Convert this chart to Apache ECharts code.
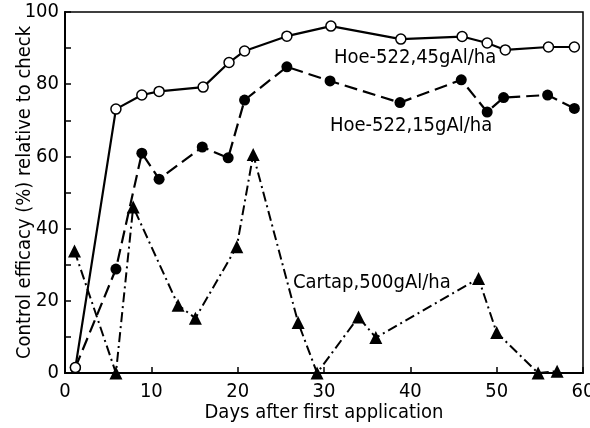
<!DOCTYPE html>
<html>
<head>
<meta charset="utf-8">
<script src="https://cdn.jsdelivr.net/npm/echarts@6/dist/echarts.min.js"></script>
<style>html,body{margin:0;padding:0;background:#fff}#c{width:590px;height:428px}</style>
</head>
<body>
<div id="c"></div>
<script>
// Data (days after first application, control efficacy %)
const hoe45Days = [1.2, 5.9, 8.9, 10.9, 16.0, 19.0, 20.8, 25.7, 30.8, 38.9, 46.0, 48.9, 51.0, 56.0, 59.0];
const hoe45Vals = [1.5, 73.1, 77.0, 78.0, 79.2, 86.0, 89.2, 93.3, 96.1, 92.5, 93.2, 91.4, 89.5, 90.3, 90.3];

const hoe15Days = [1.2, 5.9, 8.9, 10.9, 15.9, 18.9, 20.8, 25.7, 30.7, 38.8, 45.9, 48.9, 50.8, 55.9, 59.0];
const hoe15Vals = [1.5, 28.8, 60.9, 53.7, 62.6, 59.6, 75.6, 84.8, 80.9, 74.9, 81.2, 72.3, 76.3, 77.0, 73.3];

const cartapDays = [1.1, 5.9, 7.9, 13.1, 15.1, 19.9, 21.8, 27.0, 29.2, 34.0, 36.0, 47.9, 50.0, 54.8, 57.0];
const cartapVals = [33.8, 0, 46.0, 18.8, 15.2, 35.0, 60.5, 14.0, 0, 15.5, 9.8, 26.2, 11.2, 0, 0.5];

const xTicks = [0, 10, 20, 30, 40, 50, 60];
const yTicks = [0, 20, 40, 60, 80, 100];

const labels = [
  {text: 'Hoe-522,45gAl/ha', left: 334, top: 48},
  {text: 'Hoe-522,15gAl/ha', left: 330, top: 116},
  {text: 'Cartap,500gAl/ha', left: 293, top: 273}
];

const zip = (a, b) => a.map((v, i) => [v, b[i]]);
const FONT = '"DejaVu Sans Condensed", "Liberation Sans Narrow", "Liberation Sans", sans-serif';

const chart = echarts.init(document.getElementById('c'), null, {renderer: 'canvas'});
chart.setOption({
  animation: false,
  backgroundColor: '#fff',
  grid: {left: 65, right: 7, top: 12, bottom: 55, show: true, borderColor: '#000', borderWidth: 1.5,
         containLabel: false, outerBoundsMode: 'none'},
  xAxis: {
    type: 'value', min: 0, max: 60, interval: 10,
    name: 'Days after first application', nameLocation: 'middle', nameGap: 30, nameMoveOverlap: false,
    nameTextStyle: {fontFamily: FONT, fontSize: 20, color: '#000'},
    axisLine: {show: true, lineStyle: {color: '#000', width: 2}},
    axisTick: {show: true, inside: true, length: 6, lineStyle: {color: '#000', width: 1.5}},
    axisLabel: {color: '#000', fontFamily: FONT, fontSize: 20, margin: 9,
      formatter: v => xTicks.includes(v) ? String(v) : ''},
    splitLine: {show: false}
  },
  yAxis: {
    type: 'value', min: 0, max: 100, interval: 20,
    name: 'Control efficacy (%) relative to check', nameLocation: 'middle', nameGap: 30, nameMoveOverlap: false,
    nameTextStyle: {fontFamily: FONT, fontSize: 20, color: '#000'},
    axisLine: {show: true, lineStyle: {color: '#000', width: 2}},
    axisTick: {show: true, inside: true, length: 6, lineStyle: {color: '#000', width: 1.5}},
    minorTick: {show: true, splitNumber: 2, length: 6, lineStyle: {color: '#000', width: 1.5}},
    axisLabel: {color: '#000', fontFamily: FONT, fontSize: 20, margin: 6,
      formatter: v => yTicks.includes(v) ? String(v) : ''},
    splitLine: {show: false}
  },
  series: [
    {
      name: 'Cartap', type: 'line', data: zip(cartapDays, cartapVals),
      symbol: 'triangle', symbolSize: 13,
      itemStyle: {color: '#000'},
      lineStyle: {color: '#000', width: 2, type: [10, 4, 2, 4]}
    },
    {
      name: 'Hoe15', type: 'line', data: zip(hoe15Days, hoe15Vals),
      symbol: 'circle', symbolSize: 11,
      itemStyle: {color: '#000'},
      lineStyle: {color: '#000', width: 2.2, type: [13, 6]}
    },
    {
      name: 'Hoe45', type: 'line', data: zip(hoe45Days, hoe45Vals),
      symbol: 'circle', symbolSize: 10,
      itemStyle: {color: '#fff', borderColor: '#000', borderWidth: 1.5},
      lineStyle: {color: '#000', width: 2.2}
    }
  ],
  graphic: labels.map(l => ({
    type: 'text', left: l.left, top: l.top, z: 100,
    style: {text: l.text, fontFamily: FONT, fontSize: 20, fill: '#000'}
  }))
});
</script>
</body>
</html>
